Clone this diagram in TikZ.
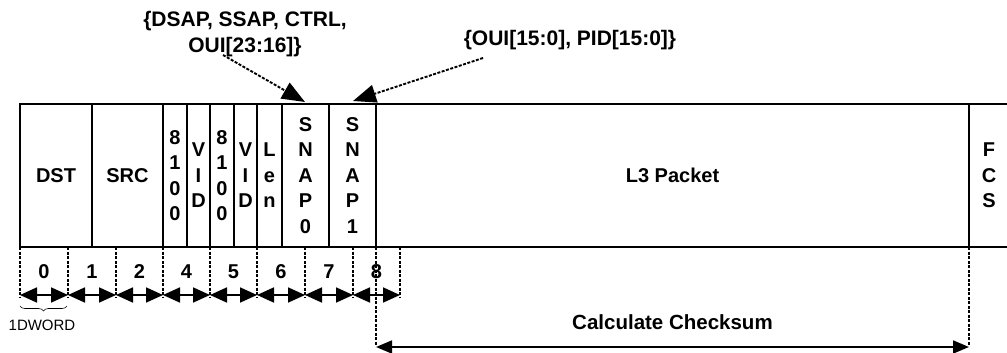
\documentclass[tikz,border=0pt]{standalone}
\usepackage{fontspec}
\setmainfont{Liberation Sans}
\usetikzlibrary{arrows.meta,decorations.pathreplacing}
\begin{document}
\begin{tikzpicture}[x=1pt,y=-1pt,
  cell/.style={draw, line width=1.6pt, inner sep=0pt, outer sep=0pt, minimum height=143pt,
    font=\fontsize{20}{25.5}\selectfont\bfseries, align=center},
  tickline/.style={line width=1.9pt, dash pattern=on 3pt off 1.5pt},
  seg/.style={line width=1.8pt, {Triangle[length=17pt,width=15pt]}-{Triangle[length=17pt,width=15pt]}},
  num/.style={font=\fontsize{20}{22}\selectfont\bfseries, inner sep=0pt},
  callout/.style={font=\fontsize{21}{26}\selectfont\bfseries, align=center, inner sep=0pt},
  calloutarrow/.style={line width=1.9pt, dash pattern=on 3pt off 1.5pt, -{Triangle[length=23pt,width=18pt]}},
  sumarrow/.style={line width=1.8pt, {Triangle[length=16pt,width=13pt]}-{Triangle[length=16pt,width=13pt]}}
]
\useasboundingbox (0,0) rectangle (1007,353);
\fill[white] (0,0) rectangle (1007,353);

% frame cells
\node[cell, minimum width=72pt] (dst) at (56,175.5) {DST};
\node[cell, minimum width=71pt] (src) at (127.5,175.5) {SRC};
\node[cell, minimum width=24pt] (ea) at (175,175.5) {8\\1\\0\\0};
\node[cell, minimum width=23pt] (va) at (198.5,175.5) {V\\I\\D};
\node[cell, minimum width=24pt] (eb) at (222,175.5) {8\\1\\0\\0};
\node[cell, minimum width=23pt] (vb) at (245.5,175.5) {V\\I\\D};
\node[cell, minimum width=25pt] (len) at (269.5,175.5) {L\\e\\n};
\node[cell, minimum width=47pt] (snapa) at (305.5,175.5) {S\\N\\A\\P\\0};
\node[cell, minimum width=47pt] (snapb) at (352.5,175.5) {S\\N\\A\\P\\1};
\node[cell, minimum width=593pt] (l3) at (672.5,175.5) {L3 Packet};
\node[cell, minimum width=40pt] (fcs) at (989,175.5) {F\\C\\S};

% tick coordinates
\foreach \i/\x in {0/20,1/68,2/116,3/163,4/210,5/257,6/305,7/353,8/400}{
  \coordinate (t\i) at (\x,247);
  \coordinate (b\i) at (\x,297);
  \coordinate (a\i) at (\x,295);
  \draw[tickline] (t\i) -- (b\i);
}
\foreach \i/\j in {0/1,1/2,2/3,3/4,4/5,5/6,6/7,7/8}{
  \draw[seg] (a\i) -- (a\j);
}

% dword numbers
\node[num] (n0) at (44,271.5) {0};
\node[num] (n1) at (92,271.5) {1};
\node[num] (n2) at (139.5,271.5) {2};
\node[num] (n4) at (186.5,271.5) {4};
\node[num] (n5) at (233.5,271.5) {5};
\node[num] (n6) at (281,271.5) {6};
\node[num] (n7) at (329,271.5) {7};
\node[num] (n8) at (376.5,271.5) {8};

% brace
\coordinate (brl) at (20,306);
\coordinate (brr) at (67,306);
\draw[line width=0.6pt, decorate, decoration={brace, mirror, amplitude=5pt}] (brl) -- (brr);
\node[font=\fontsize{15}{18}\selectfont, inner sep=0pt] (dword) at (42,325) {1DWORD};

% checksum range
\coordinate (cka) at (376,247);
\coordinate (ckab) at (376,346);
\coordinate (ckb) at (969,247);
\coordinate (ckbb) at (969,346);
\draw[tickline] (cka) -- (ckab);
\draw[tickline] (ckb) -- (ckbb);
\coordinate (csl) at (376,347);
\coordinate (csr) at (969,347);
\draw[sumarrow] (csl) -- (csr);
\node[font=\fontsize{20.5}{24}\selectfont\bfseries, inner sep=0pt] (cs) at (672.5,322) {Calculate Checksum};

% callouts
\node[callout] (lab1) at (245,34) {\{DSAP, SSAP, CTRL,\\OUI[23:16]\}};
\node[callout] (lab2) at (570,40) {\{OUI[15:0], PID[15:0]\}};
\coordinate (l1s) at (223,55);
\coordinate (l1e) at (305,102);
\coordinate (l2s) at (483,58);
\coordinate (l2e) at (353,101);
\draw[calloutarrow] (l1s) -- (l1e);
\draw[calloutarrow] (l2s) -- (l2e);
\end{tikzpicture}
\end{document}
